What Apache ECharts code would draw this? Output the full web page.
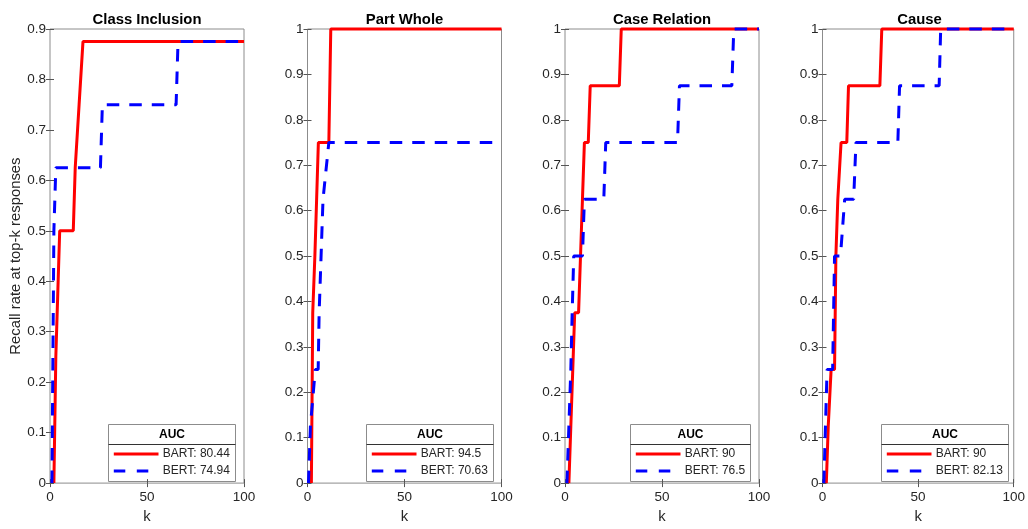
<!DOCTYPE html>
<html>
<head>
<meta charset="utf-8">
<script src="https://cdn.jsdelivr.net/npm/echarts@6/dist/echarts.min.js"></script>
<style>
  html, body { margin: 0; padding: 0; background: #fff; }
  #chart { width: 1028px; height: 529px; }
</style>
</head>
<body>
<div id="chart"></div>
<script>
// Recall at top-k responses for four relation types, BART vs BERT.
const panelTitles = ['Class Inclusion', 'Part Whole', 'Case Relation', 'Cause'];
const recallMax = [0.9, 1, 1, 1];
const kTicks = [0, 50, 100];
const aucBart = [80.44, 94.5, 90, 90];
const aucBert = [74.94, 70.63, 76.5, 82.13];

// [k, recall] pairs
const classInclusionBart = [[2, 0], [3, 0.25], [4, 0.375], [5, 0.5], [12, 0.5], [13, 0.625], [14, 0.625], [15, 0.75], [16, 0.75], [17, 0.875], [100, 0.875]];
const classInclusionBert = [[1, 0], [2, 0.5], [3, 0.625], [26, 0.625], [27, 0.75], [65, 0.75], [66, 0.875], [100, 0.875]];
const partWholeBart = [[2, 0], [2.7, 0.375], [3.8, 0.5], [4.7, 0.625], [5.6, 0.75], [11, 0.75], [12, 1], [100, 1]];
const partWholeBert = [[0.5, 0], [1.5, 0.125], [4, 0.25], [5.5, 0.25], [6, 0.375], [7, 0.5], [8, 0.625], [11, 0.75], [100, 0.75]];
const caseRelationBart = [[2, 0], [3, 0.125], [4, 0.25], [5, 0.375], [7, 0.375], [8, 0.5], [9, 0.625], [10, 0.75], [12, 0.75], [13, 0.875], [28, 0.875], [29, 1], [100, 1]];
const caseRelationBert = [[1, 0], [2, 0.125], [3, 0.25], [3.7, 0.375], [4.5, 0.5], [9, 0.5], [10, 0.625], [20, 0.625], [21, 0.75], [58, 0.75], [59, 0.875], [86, 0.875], [87, 1], [100, 1]];
const causeBart = [[2, 0], [3, 0.125], [4.5, 0.25], [6.3, 0.25], [7, 0.5], [8, 0.625], [9, 0.625], [9.7, 0.75], [12.7, 0.75], [13.6, 0.875], [30, 0.875], [31, 1], [100, 1]];
const causeBert = [[0.7, 0], [2.4, 0.25], [5.3, 0.25], [6.3, 0.5], [9.4, 0.5], [11.6, 0.625], [16.3, 0.625], [17.5, 0.75], [39.4, 0.75], [40.3, 0.875], [61, 0.875], [61.8, 1], [100, 1]];

const bartSeries = [classInclusionBart, partWholeBart, caseRelationBart, causeBart];
const bertSeries = [classInclusionBert, partWholeBert, caseRelationBert, causeBert];

const FONT = "'Liberation Sans', Arial, Helvetica, sans-serif";
const RED = '#ff0000';
const BLUE = '#0000ff';
const BOX = '#8c8c8c';
const INK = '#262626';
const TICK_SIZE = 13.5;
const NAME_SIZE = 14.85;

const gridLeft = [50, 307.5, 565, 822.5];
const gridTop = 29;
const gridWidth = 194;
const gridHeight = 463;

function fmtTick(v) {
  return String(Math.round(v * 10) / 10);
}

const measureCtx = document.createElement('canvas').getContext('2d');
function textWidth(str, font) {
  measureCtx.font = font;
  return measureCtx.measureText(str).width;
}

const grids = [], xAxes = [], yAxes = [], series = [], titles = [], graphics = [];

panelTitles.forEach((name, i) => {
  grids.push({
    left: gridLeft[i], top: gridTop, width: gridWidth, height: gridHeight,
    show: true, borderColor: BOX, borderWidth: 1, backgroundColor: '#fff',
    containLabel: false
  });

  const xBase = {
    type: 'value', gridIndex: i, min: kTicks[0], max: kTicks[kTicks.length - 1],
    interval: kTicks[1] - kTicks[0],
    axisLine: { show: false },
    axisTick: { show: true, inside: true, length: 4, lineStyle: { color: '#555' } },
    splitLine: { show: false }
  };
  xAxes.push(Object.assign({}, xBase, {
    position: 'bottom',
    name: 'k', nameLocation: 'middle', nameGap: 22,
    nameTextStyle: { fontFamily: FONT, fontSize: NAME_SIZE, color: INK },
    axisLabel: { show: true, margin: 7, fontFamily: FONT, fontSize: TICK_SIZE, color: INK }
  }));
  xAxes.push(Object.assign({}, xBase, { position: 'top', axisLabel: { show: false } }));

  const yBase = {
    type: 'value', gridIndex: i, min: 0, max: recallMax[i], interval: 0.1,
    axisLine: { show: false },
    axisTick: { show: true, inside: true, length: 4, lineStyle: { color: '#555' } },
    splitLine: { show: false }
  };
  const yLeft = Object.assign({}, yBase, {
    position: 'left',
    axisLabel: { show: true, margin: 4, fontFamily: FONT, fontSize: TICK_SIZE, color: INK, formatter: fmtTick }
  });
  if (i === 0) {
    Object.assign(yLeft, {
      name: 'Recall rate at top-k responses', nameLocation: 'middle', nameGap: 26,
      nameTextStyle: { fontFamily: FONT, fontSize: NAME_SIZE, color: INK }
    });
  }
  yAxes.push(yLeft);
  yAxes.push(Object.assign({}, yBase, { position: 'right', axisLabel: { show: false } }));

  series.push({
    name: 'BART', type: 'line', xAxisIndex: 2 * i, yAxisIndex: 2 * i,
    data: bartSeries[i], symbol: 'none', clip: false, silent: true,
    lineStyle: { color: RED, width: 3 }, z: 3
  });
  series.push({
    name: 'BERT', type: 'line', xAxisIndex: 2 * i, yAxisIndex: 2 * i,
    data: bertSeries[i], symbol: 'none', clip: false, silent: true,
    lineStyle: { color: BLUE, width: 3, type: [12.5, 10] }, z: 4
  });

  titles.push({
    text: name, left: gridLeft[i] + gridWidth / 2, top: 12, textAlign: 'center', padding: 0,
    textStyle: { fontFamily: FONT, fontSize: NAME_SIZE, fontWeight: 'bold', color: '#000' }
  });

  // AUC legend box in the lower-right corner of each panel
  const entryFont = '12px ' + FONT;
  const bartText = 'BART: ' + aucBart[i];
  const bertText = 'BERT: ' + aucBert[i];
  const tw = Math.max(textWidth(bartText, entryFont), textWidth(bertText, entryFont));
  const boxW = Math.round(54.3 + tw + 5.7);
  const boxH = 57;
  const boxX = Math.round(gridLeft[i] + gridWidth - 9 - boxW) + 0.5;
  const boxY = gridTop + gridHeight - 11 - boxH + 0.5;
  const rowA = 29.5, rowB = 46.5;
  graphics.push({
    type: 'group', x: boxX, y: boxY, z: 100,
    children: [
      { type: 'rect', shape: { x: 0, y: 0, width: boxW, height: boxH }, style: { fill: '#fff', stroke: BOX, lineWidth: 1 } },
      { type: 'line', shape: { x1: 0, y1: 20, x2: boxW, y2: 20 }, style: { stroke: '#333', lineWidth: 1 } },
      { type: 'text', x: boxW / 2, y: 10.5, style: { text: 'AUC', font: 'bold 12px ' + FONT, fill: '#000', align: 'center', verticalAlign: 'middle' } },
      { type: 'line', shape: { x1: 5.3, y1: rowA, x2: 50, y2: rowA }, style: { stroke: RED, lineWidth: 3 } },
      { type: 'line', shape: { x1: 5.3, y1: rowB, x2: 50, y2: rowB }, style: { stroke: BLUE, lineWidth: 3, lineDash: [11.5, 11.5] } },
      { type: 'text', x: 54.3, y: rowA, style: { text: bartText, font: entryFont, fill: INK, align: 'left', verticalAlign: 'middle' } },
      { type: 'text', x: 54.3, y: rowB, style: { text: bertText, font: entryFont, fill: INK, align: 'left', verticalAlign: 'middle' } }
    ]
  });
});

const chart = echarts.init(document.getElementById('chart'), null, { renderer: 'canvas' });
chart.setOption({
  animation: false,
  backgroundColor: '#fff',
  title: titles,
  grid: grids,
  xAxis: xAxes,
  yAxis: yAxes,
  series: series,
  graphic: graphics
});
</script>
</body>
</html>
